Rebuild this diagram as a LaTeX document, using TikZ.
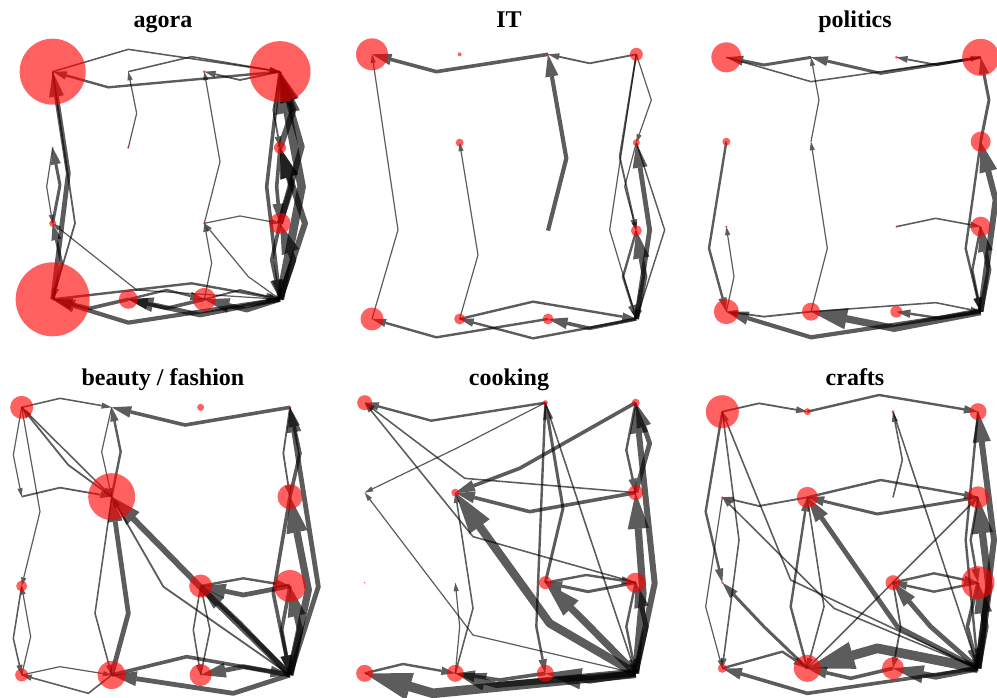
\documentclass[tikz,border=0pt]{standalone}
\usepackage{fontspec}
\setmainfont{Liberation Serif}
\usetikzlibrary{arrows.meta}
\pgfdeclarelayer{edges}
\pgfsetlayers{edges,main}
\tikzset{
  rn/.style={circle, fill=red, fill opacity=0.62, draw=none, inner sep=0pt, minimum size=#1},
  lnk/.style={draw=black, opacity=0.64, line join=round,
    -{Triangle[length=3pt 4.6, width=2pt 2.7, line width=0pt]}},
  ttl/.style={font=\fontsize{24}{28}\selectfont\bfseries, anchor=base}
}
\newcommand{\nd}[4]{\node[rn=#4pt] (#1) at (#2,#3) {};}
\newcommand{\ed}[4][1]{\draw[lnk, line width=1.2*#1pt] (#2.center) -- (#4) -- (#3.center);}
\begin{document}
\begin{tikzpicture}[x=1pt,y=-1pt]
\useasboundingbox (0,0) rectangle (997,698);
\node[ttl] (tA) at (163,28) {agora};
\node[ttl] (tB) at (509,28) {IT};
\node[ttl] (tC) at (855,28) {politics};
\node[ttl] (tD) at (163,385) {beauty / fashion};
\node[ttl] (tE) at (509,385) {cooking};
\node[ttl] (tF) at (855,385) {crafts};

% ---------------- agora
\begin{scope}[shift={(0,0)}, scale=1/3]
\nd{A00}{158}{215}{66}\nd{A10}{385}{215}{0}\nd{A20}{613}{215}{3}\nd{A30}{840}{215}{61}
\nd{A01}{158}{443}{2}\nd{A11}{385}{443}{2.5}\nd{A21}{613}{443}{0}\nd{A31}{840}{443}{12}
\nd{A02}{158}{670}{7}\nd{A12}{385}{670}{0}\nd{A22}{613}{670}{2.5}\nd{A32}{840}{670}{21}
\nd{A03}{158}{898}{74}\nd{A13}{385}{898}{19}\nd{A23}{613}{898}{23}\nd{A33}{840}{898}{0}
\begin{pgfonlayer}{edges}
\ed[2]{A30}{A00}{325,262}
\ed[1.3]{A00}{A30}{385,148}
\ed[1.3]{A10}{A30}{575,170}
\ed[1.5]{A30}{A20}{720,240}
\ed[1]{A11}{A10}{410,340}
\ed[1]{A22}{A20}{660,485}
\ed[1]{A23}{A22}{635,790}
\ed[1]{A33}{A22}{745,830}
\ed[1]{A22}{A32}{720,648}
\ed[1]{A33}{A02}{410,870}
\ed[4]{A03}{A00}{205,520}
\ed[1.5]{A00}{A03}{225,670}
\ed[2.5]{A03}{A02}{185,790}
\ed[2.5]{A02}{A01}{180,555}
\ed[1]{A01}{A02}{140,560}
\ed[7]{A33}{A30}{905,560}
\ed[5]{A33}{A32}{880,780}
\ed[5]{A32}{A31}{875,560}
\ed[5]{A31}{A30}{880,330}
\ed[3]{A30}{A33}{800,560}
\ed[1.5]{A30}{A31}{820,330}
\ed[3]{A31}{A32}{830,560}
\ed[3]{A32}{A33}{815,780}
\ed[5]{A33}{A31}{915,670}
\ed[5]{A32}{A30}{905,440}
\ed[3.5]{A33}{A03}{385,968}
\ed[2]{A03}{A33}{575,850}
\ed[4]{A33}{A13}{600,945}
\ed[4]{A33}{A23}{740,930}
\ed[1.5]{A23}{A33}{720,870}
\ed[3]{A13}{A03}{270,925}
\ed[3]{A23}{A13}{500,925}
\ed[2]{A13}{A23}{500,870}
\end{pgfonlayer}
\end{scope}

% ---------------- IT
\begin{scope}[shift={(333,0)}, scale=1/3]
\nd{B00}{117}{163}{32}\nd{B10}{380}{163}{4}\nd{B20}{645}{163}{2}\nd{B30}{910}{163}{13}
\nd{B01}{117}{428}{0}\nd{B11}{380}{428}{8}\nd{B21}{645}{428}{0}\nd{B31}{910}{428}{7}
\nd{B02}{117}{692}{0}\nd{B12}{380}{692}{0}\nd{B22}{645}{692}{0}\nd{B32}{910}{692}{11}
\nd{B03}{117}{957}{23}\nd{B13}{380}{957}{11}\nd{B23}{645}{957}{11}\nd{B33}{910}{957}{0}
\begin{pgfonlayer}{edges}
\ed[3]{B20}{B00}{310,215}
\ed[1.5]{B30}{B20}{770,190}
\ed[3.5]{B22}{B20}{700,475}
\ed[1]{B13}{B11}{435,765}
\ed[1]{B03}{B00}{195,690}
\ed[2]{B23}{B03}{310,1012}
\ed[2]{B13}{B33}{600,905}
\ed[2]{B33}{B13}{600,1015}
\ed[3]{B33}{B23}{770,985}
\ed[1]{B30}{B33}{830,690}
\ed[1.2]{B31}{B33}{995,690}
\ed[1.5]{B30}{B32}{860,470}
\ed[1]{B30}{B31}{955,300}
\ed[4]{B33}{B31}{950,690}
\ed[4.5]{B33}{B32}{935,830}
\ed[2]{B32}{B33}{870,830}
\ed[1]{B31}{B32}{875,560}
\end{pgfonlayer}
\end{scope}

% ---------------- politics
\begin{scope}[shift={(664,0)}, scale=1/3]
\nd{C00}{187}{172}{30}\nd{C10}{441}{172}{2}\nd{C20}{697}{172}{3}\nd{C30}{950}{172}{37}
\nd{C01}{187}{425}{8}\nd{C11}{441}{425}{0}\nd{C21}{697}{425}{0}\nd{C31}{950}{425}{20}
\nd{C02}{187}{680}{2.5}\nd{C12}{441}{680}{0}\nd{C22}{697}{680}{2}\nd{C32}{950}{680}{20}
\nd{C03}{187}{935}{25}\nd{C13}{441}{935}{18}\nd{C23}{697}{935}{12}\nd{C33}{950}{935}{0}
\begin{pgfonlayer}{edges}
\ed[1.3]{C00}{C30}{441,245}
\ed[2.5]{C30}{C10}{650,220}
\ed[2.5]{C10}{C00}{300,195}
\ed[1.5]{C30}{C20}{820,195}
\ed[1]{C13}{C11}{490,745}
\ed[1]{C11}{C10}{465,300}
\ed[2]{C01}{C03}{135,745}
\ed[1]{C03}{C02}{210,830}
\ed[1.3]{C22}{C32}{815,655}
\ed[5]{C33}{C31}{995,600}
\ed[4]{C33}{C32}{975,810}
\ed[2.5]{C31}{C30}{975,300}
\ed[2]{C31}{C33}{905,745}
\ed[2]{C32}{C33}{925,810}
\ed[3.5]{C33}{C03}{441,1012}
\ed[6]{C33}{C13}{690,985}
\ed[1.3]{C13}{C33}{815,908}
\ed[2]{C33}{C23}{830,955}
\ed[1.5]{C13}{C03}{300,950}
\end{pgfonlayer}
\end{scope}

% ---------------- beauty / fashion
\begin{scope}[shift={(0,360)}, scale=1/3]
\nd{D00}{65}{142}{23}\nd{D10}{335}{142}{0}\nd{D20}{602}{142}{7}\nd{D30}{870}{142}{3}
\nd{D01}{65}{410}{0}\nd{D11}{335}{410}{47}\nd{D21}{602}{410}{0}\nd{D31}{870}{410}{25}
\nd{D02}{65}{678}{11}\nd{D12}{335}{678}{0}\nd{D22}{602}{678}{23}\nd{D32}{870}{678}{32}
\nd{D03}{65}{945}{13}\nd{D13}{335}{945}{28}\nd{D23}{602}{945}{22}\nd{D33}{870}{945}{0}
\begin{pgfonlayer}{edges}
\ed[3]{D30}{D10}{555,195}
\ed[1.3]{D00}{D10}{180,115}
\ed[1.5]{D11}{D00}{205,315}
\ed[1.3]{D00}{D11}{200,276}
\ed[1.5]{D01}{D11}{180,383}
\ed[1]{D00}{D01}{40,285}
\ed[1]{D00}{D02}{120,455}
\ed[2]{D11}{D10}{362,275}
\ed[1]{D10}{D11}{305,275}
\ed[4]{D13}{D11}{385,760}
\ed[1.3]{D11}{D13}{285,760}
\ed[1.3]{D02}{D03}{40,835}
\ed[1]{D03}{D02}{92,830}
\ed[1]{D03}{D13}{180,920}
\ed[1.3]{D13}{D03}{265,1000}
\ed[5]{D33}{D11}{600,680}
\ed[1.5]{D33}{D11}{490,680}
\ed[3]{D13}{D33}{560,890}
\ed[4]{D33}{D13}{700,1000}
\ed[4]{D33}{D23}{730,920}
\ed[4]{D33}{D22}{720,790}
\ed[1.3]{D22}{D23}{580,810}
\ed[1.3]{D23}{D22}{630,810}
\ed[2]{D22}{D32}{730,655}
\ed[4]{D32}{D22}{730,705}
\ed[4]{D33}{D30}{955,680}
\ed[6]{D33}{D31}{925,690}
\ed[3]{D31}{D30}{900,280}
\ed[1.5]{D30}{D31}{850,280}
\ed[3]{D31}{D33}{820,700}
\ed[3]{D32}{D33}{845,810}
\ed[5]{D33}{D32}{900,810}
\end{pgfonlayer}
\end{scope}

% ---------------- cooking
\begin{scope}[shift={(333,360)}, scale=1/3]
\nd{E00}{95}{128}{15}\nd{E10}{367}{128}{0}\nd{E20}{637}{128}{5}\nd{E30}{908}{128}{8}
\nd{E01}{95}{398}{0}\nd{E11}{367}{398}{8}\nd{E21}{637}{398}{0}\nd{E31}{908}{398}{15}
\nd{E02}{95}{668}{1.5}\nd{E12}{367}{668}{0}\nd{E22}{637}{668}{13}\nd{E32}{908}{668}{20}
\nd{E03}{95}{940}{17}\nd{E13}{367}{940}{17}\nd{E23}{637}{940}{17}\nd{E33}{908}{940}{0}
\begin{pgfonlayer}{edges}
\ed[2]{E20}{E00}{295,182}
\ed[1.3]{E31}{E00}{395,355}
\ed[1.3]{E32}{E00}{420,530}
\ed[1]{E33}{E01}{420,825}
\ed[1]{E20}{E01}{370,265}
\ed[3]{E30}{E11}{560,325}
\ed[3]{E31}{E11}{590,455}
\ed[7]{E33}{E11}{650,790}
\ed[1.3]{E13}{E11}{420,745}
\ed[1]{E13}{E12}{380,800}
\ed[2.5]{E22}{E20}{690,445}
\ed[2]{E20}{E23}{610,800}
\ed[1.3]{E20}{E33}{760,500}
\ed[2]{E22}{E32}{760,645}
\ed[2.5]{E32}{E22}{765,695}
\ed[6]{E33}{E22}{760,790}
\ed[5]{E33}{E30}{965,670}
\ed[6]{E33}{E31}{930,700}
\ed[4]{E31}{E30}{950,250}
\ed[2]{E30}{E31}{880,270}
\ed[4]{E33}{E32}{940,800}
\ed[2]{E32}{E33}{880,800}
\ed[8]{E33}{E03}{300,1000}
\ed[2]{E03}{E13}{210,912}
\ed[5]{E33}{E13}{490,975}
\ed[6]{E33}{E23}{770,960}
\ed[3]{E23}{E13}{500,960}
\end{pgfonlayer}
\end{scope}

% ---------------- crafts
\begin{scope}[shift={(664,360)}, scale=1/3]
\nd{F00}{175}{155}{33}\nd{F10}{430}{155}{7}\nd{F20}{687}{155}{3}\nd{F30}{942}{155}{17}
\nd{F01}{175}{412}{2}\nd{F11}{430}{412}{21}\nd{F21}{687}{412}{0}\nd{F31}{942}{412}{22}
\nd{F02}{175}{668}{2.5}\nd{F12}{430}{668}{0}\nd{F22}{687}{668}{15}\nd{F32}{942}{668}{33}
\nd{F03}{175}{925}{9}\nd{F13}{430}{925}{27}\nd{F23}{687}{925}{22}\nd{F33}{942}{925}{0}
\begin{pgfonlayer}{edges}
\ed[1.5]{F00}{F10}{285,130}
\ed[2]{F10}{F30}{645,105}
\ed[1.3]{F21}{F20}{715,300}
\ed[1.3]{F20}{F33}{815,540}
\ed[2]{F11}{F31}{650,360}
\ed[2.5]{F31}{F11}{640,462}
\ed[1.5]{F11}{F01}{285,438}
\ed[2]{F00}{F02}{125,455}
\ed[1.3]{F00}{F03}{225,540}
\ed[1]{F01}{F03}{125,740}
\ed[1.3]{F33}{F00}{380,660}
\ed[1.3]{F33}{F01}{510,745}
\ed[2.5]{F13}{F02}{300,800}
\ed[4]{F33}{F11}{700,800}
\ed[2]{F13}{F11}{380,740}
\ed[1.3]{F11}{F13}{480,740}
\ed[1.3]{F13}{F31}{686,668}
\ed[4]{F33}{F22}{800,800}
\ed[2]{F22}{F32}{810,640}
\ed[2]{F32}{F22}{810,695}
\ed[1.5]{F22}{F23}{710,800}
\ed[5]{F33}{F30}{990,540}
\ed[6]{F33}{F31}{975,680}
\ed[5]{F33}{F32}{965,800}
\ed[2]{F30}{F33}{905,540}
\ed[2]{F31}{F32}{920,540}
\ed[3]{F32}{F33}{910,800}
\ed[3]{F33}{F03}{430,1000}
\ed[2]{F03}{F13}{355,875}
\ed[8]{F33}{F13}{640,865}
\ed[5]{F33}{F23}{815,950}
\ed[3]{F23}{F13}{560,955}
\end{pgfonlayer}
\end{scope}
\end{tikzpicture}
\end{document}
